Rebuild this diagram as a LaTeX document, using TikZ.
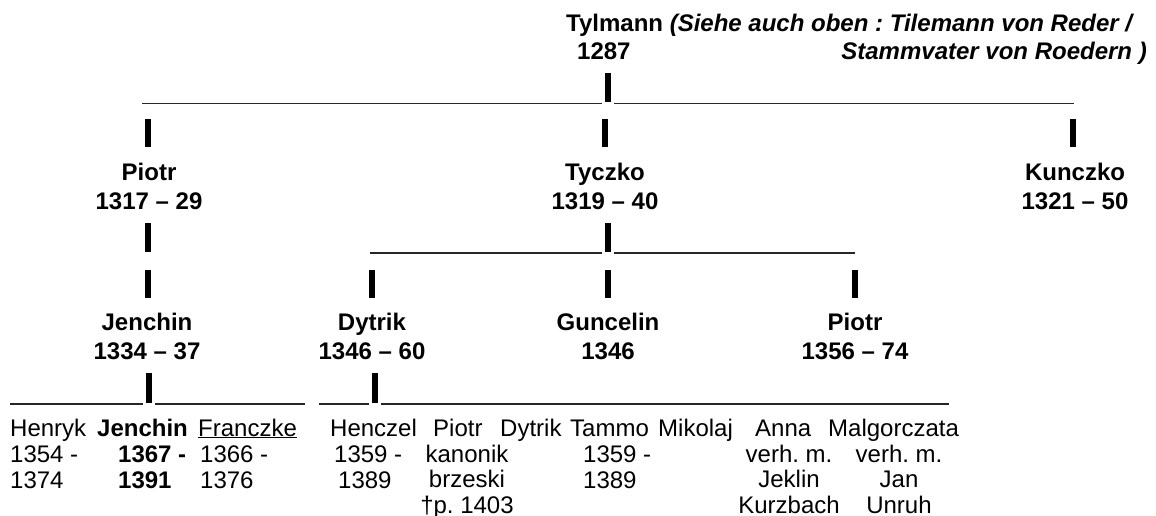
\documentclass[tikz,border=0pt]{standalone}
\usepackage{fontspec}
\setmainfont{Liberation Sans}
\frenchspacing
\begin{document}
\begin{tikzpicture}[x=1pt,y=-1pt,
  bar/.style={line width=6pt},
  rule/.style={line width=1.8pt, color=black!85},
  elder/.style={font=\bfseries\fontsize{24}{29}\selectfont, align=center, anchor=base, inner sep=0pt},
  kid/.style={font=\fontsize{24}{25.5}\selectfont, align=left, anchor=base west, inner sep=0pt}]
\useasboundingbox (0,0) rectangle (1156,516);

% Tylmann
\node[elder, anchor=base west] (tylmann) at (566,32) {Tylmann \textit{(Siehe auch oben : Tilemann von Reder /}};
\node[elder, anchor=base west] (tylyear) at (577,60) {1287};
\node[elder, anchor=base east] (tylnote) at (1147,60) {\textit{Stammvater von Roedern )}};

\draw[bar] (608,73) -- (608,102);
\draw[rule] (142,103.5) -- (602,103.5);
\draw[rule] (614,103.5) -- (1074,103.5);

% sons (base = last line)
\foreach \x in {148,605,1073} \draw[bar] (\x,119) -- (\x,147);
\node[elder] (piotr) at (149,209) {Piotr\\1317 -- 29};
\node[elder] (tyczko) at (605,209) {Tyczko\\1319 -- 40};
\node[elder] (kunczko) at (1075,209) {Kunczko\\1321 -- 50};

\draw[bar] (148,223) -- (148,252);
\draw[bar] (608,223) -- (608,252);
\draw[rule] (370,253) -- (602,253);
\draw[rule] (614,253) -- (855,253);

% grandsons
\foreach \x in {148,372,608,855} \draw[bar] (\x,270) -- (\x,298);
\node[elder] (jenchin) at (147,359) {Jenchin\\1334 -- 37};
\node[elder] (dytrik) at (372,359) {Dytrik\\1346 -- 60};
\node[elder] (guncelin) at (608,359) {Guncelin\\1346};
\node[elder] (piotrb) at (855,359) {Piotr\\1356 -- 74};

\draw[bar] (149,373) -- (149,403);
\draw[bar] (375,373) -- (375,403);
\draw[rule] (10,404) -- (143,404);
\draw[rule] (155,404) -- (305,404);
\draw[rule] (319,404) -- (369,404);
\draw[rule] (381,404) -- (949,404);

% children of Jenchin
\node[kid] (henryk) at (10,436) {Henryk};
\node[kid] (jenchinb) at (97,436) {\bfseries Jenchin};
\node[kid] (franczke) at (198,436) {\underline{Franczke}};
\node[kid] (henrykd) at (10,488) {1354 -\\1374};
\node[kid] (jenchind) at (118,488) {\bfseries 1367 -\\\bfseries 1391};
\node[kid] (franczked) at (200,488) {1366 -\\1376};

% children of Dytrik
\node[kid] (henczel) at (330,436) {Henczel};
\node[kid] (piotrc) at (433,436) {Piotr};
\node[kid] (dytrikb) at (500,436) {Dytrik};
\node[kid] (tammo) at (570,436) {Tammo};
\node[kid] (mikolaj) at (658,436) {Mikolaj};
\node[kid] (anna) at (755,436) {Anna};
\node[kid] (malgorczata) at (828,436) {Malgorczata};

\node[kid] (henczeld) at (334,462) {1359 -};
\node[kid] (henczele) at (338,488) {1389};
\node[kid, anchor=base, align=center] (piotrd) at (467,513) {kanonik\\brzeski\\†p. 1403};
\node[kid] (tammod) at (583,488) {1359 -\\1389};
\node[kid, anchor=base, align=center] (annad) at (789,513) {verh. m.\\Jeklin\\Kurzbach};
\node[kid, anchor=base, align=center] (malgd) at (899,513) {verh. m.\\Jan\\Unruh};
\end{tikzpicture}
\end{document}
